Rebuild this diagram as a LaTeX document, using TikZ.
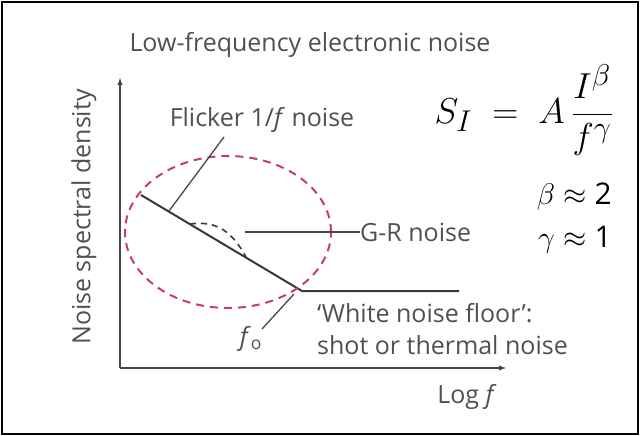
\documentclass[tikz,border=0pt]{standalone}
\usepackage{fontspec}
\setmainfont{Open Sans}
\usetikzlibrary{positioning,calc,shapes.geometric}
\definecolor{labelgrey}{RGB}{80,80,80}
\definecolor{circred}{RGB}{200,62,92}

\begin{document}
\begin{tikzpicture}[x=1pt,y=-1pt,
    lbl/.style={text=labelgrey, font=\fontsize{25}{32}\selectfont, inner sep=0pt},
    curve/.style={draw=black!78, line width=2pt},
    lead/.style={draw=black!72, line width=1.3pt},
    axis/.style={draw=black!72, line width=1.4pt, -latex},
    eqn/.style={font=\fontsize{24.88}{30}\selectfont, inner sep=0pt}
]
\useasboundingbox (0,0) rectangle (640,436);
\draw[line width=2pt] (2,2) rectangle (638,434);

% Axes
\coordinate (orig) at (120,368);
\coordinate (ytop) at (120,78);
\coordinate (xend) at (506,368);
\draw[axis] (orig) -- (ytop);
\draw[axis] (orig) -- (xend);

\node (title) [lbl] at (310,45) {Low-frequency electronic noise};
\node (ylab) [lbl, rotate=90] at (84,217) {Noise spectral density};
\node (xlab) [lbl] at (467,397) {Log \textit{f}};

% Spectrum
\coordinate (start) at (141,195);
\coordinate (knee) at (302,291);
\coordinate (floor) at (459,291);
\draw[curve] (start) -- (knee) -- (floor);
\coordinate (grA) at (190,224);
\coordinate (grB) at (246,257);
\draw[curve, dash pattern=on 6pt off 5pt, line width=1.6pt] (grA) .. controls (214,221) and (230,228) .. (grB);

% Circle
\node (circ) [draw=circred, dash pattern=on 8pt off 6pt, line width=2pt, ellipse, minimum width=206pt, minimum height=152pt, inner sep=0pt] at (228,232) {};

% Labels
\node (flicker) [lbl] at (262,120) {Flicker 1/\textit{f} noise};
\coordinate (flkA) at (169,211);
\coordinate (flkB) at (224,137);
\draw[lead] (flkA) -- (flkB);

\node (gr) [lbl, anchor=west] at (360,232) {G-R noise};
\coordinate (grL) at (245,232);
\draw[lead] (grL) -- (gr.west);

\node (fo) [lbl] at (251,339) {\textit{f}\textsubscript{o}};
\coordinate (foA) at (294,294);
\coordinate (foB) at (262,329);
\draw[lead] (foA) -- (foB);

\node (white) [lbl, anchor=west, align=left] at (317,329) {`White noise floor':\\shot or thermal noise};

% Formula
\node (law) [eqn] at (524,110) {\scalebox{1.45}{$\displaystyle S_I\;=\;A\,\frac{I^{\beta}}{f^{\gamma}}$}};
\node (beta) [eqn, anchor=east] at (612,197) {\scalebox{1.2}{$\beta\approx\mbox{2}$}};
\node (gamma) [eqn, anchor=east] at (612,240) {\scalebox{1.2}{$\gamma\approx\mbox{1}$}};
\end{tikzpicture}
\end{document}
